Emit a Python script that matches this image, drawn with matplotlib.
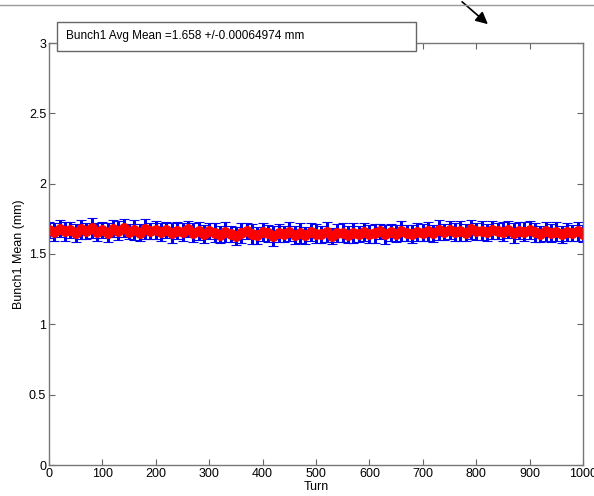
import numpy as np
import matplotlib
matplotlib.use('Agg')
import matplotlib.pyplot as plt

plt.rcParams['font.family'] = ['Liberation Sans', 'DejaVu Sans']

# turn numbers, sampled every 10 turns
turns = np.arange(0, 1001, 10)

# bunch mean (mm)
bunch_mean = [
    1.672, 1.655, 1.681, 1.660, 1.668, 1.649, 1.676, 1.663, 1.685, 1.657,
    1.670, 1.652, 1.679, 1.666, 1.688, 1.659, 1.671, 1.650, 1.677, 1.664, 1.669,
    1.655, 1.673, 1.648, 1.667, 1.658, 1.676, 1.651, 1.662, 1.644, 1.665,
    1.652, 1.638, 1.657, 1.643, 1.630, 1.649, 1.661, 1.640, 1.634, 1.655,
    1.646, 1.628, 1.650, 1.642, 1.659, 1.637, 1.648, 1.633, 1.654, 1.644,
    1.639, 1.657, 1.631, 1.647, 1.652, 1.636, 1.649, 1.641, 1.656, 1.643,
    1.647, 1.660, 1.639, 1.653, 1.645, 1.662, 1.650, 1.641, 1.657, 1.652,
    1.661, 1.648, 1.669, 1.655, 1.672, 1.658, 1.664, 1.651, 1.676, 1.660,
    1.667, 1.653, 1.670, 1.662, 1.657, 1.674, 1.649, 1.666, 1.659, 1.671,
    1.655, 1.643, 1.661, 1.650, 1.658, 1.640, 1.653, 1.647, 1.660, 1.645,
]

# error bar half-widths (mm)
bunch_err = [
    0.058, 0.065, 0.061, 0.070, 0.056, 0.063, 0.067, 0.059, 0.072, 0.062,
    0.057, 0.066, 0.060, 0.069, 0.064, 0.055, 0.068, 0.061, 0.073, 0.059,
    0.063, 0.066, 0.058, 0.071, 0.060, 0.064, 0.057, 0.069, 0.062, 0.065,
    0.056, 0.067, 0.061, 0.070, 0.059, 0.063, 0.068, 0.057, 0.072, 0.060,
    0.065, 0.058, 0.069, 0.062, 0.056, 0.067, 0.064, 0.071, 0.059, 0.063,
    0.066, 0.060, 0.073, 0.057, 0.064, 0.068, 0.061, 0.070, 0.058, 0.065,
    0.062, 0.067, 0.056, 0.069, 0.063, 0.060, 0.071, 0.058, 0.066, 0.064,
    0.059, 0.068, 0.061, 0.072, 0.057, 0.065, 0.063, 0.070, 0.060, 0.066,
    0.058, 0.069, 0.062, 0.064, 0.056, 0.067, 0.061, 0.071, 0.059, 0.065,
    0.063, 0.068, 0.057, 0.070, 0.062, 0.066, 0.060, 0.064, 0.058, 0.067,
    0.061,
]

x_ticks = list(range(0, 1001, 100))
y_ticks = [0, 0.5, 1, 1.5, 2, 2.5, 3]
legend_text = 'Bunch1 Avg Mean =1.658 +/-0.00064974 mm'

fig = plt.figure(figsize=(5.94, 4.96), dpi=100)
ax = fig.add_axes([49 / 594, 1 - 465 / 496, (583 - 49) / 594, (465 - 43) / 496])

eb = ax.errorbar(turns, bunch_mean, yerr=bunch_err, fmt='none', ecolor='#0000ee',
                 elinewidth=2.2, capsize=3.5, capthick=0.8)
for cap in eb[1]:
    cap.set_color('#8080ff')
ax.plot(turns, bunch_mean, '-o', color='#ff0000', markersize=7, linewidth=2,
        markeredgewidth=0.8)

ax.set_xlim(0, 1000)
ax.set_ylim(0, 3)
ax.set_xticks(x_ticks)
ax.set_yticks(y_ticks)
ax.set_yticklabels(['0', '0.5', '1', '1.5', '2', '2.5', '3'])
ax.tick_params(direction='in', length=4, width=0.8, color='#666666',
               top=True, right=True, labelsize=9, pad=2)
for sp in ax.spines.values():
    sp.set_color('#777777')
    sp.set_linewidth(1.0)
ax.set_xlabel('Turn', fontsize=9, labelpad=1)
ax.set_ylabel('Bunch1 Mean (mm)', fontsize=9, labelpad=3)

# legend box sitting over the top edge of the axes
fig.patches.append(plt.Rectangle((57 / 594, 1 - 51 / 496), (416 - 57) / 594, 29 / 496,
                                 transform=fig.transFigure, facecolor='white',
                                 edgecolor='#666666', linewidth=1.0, zorder=5))
fig.text(66 / 594, 1 - 36 / 496, legend_text, fontsize=8.5, va='center', zorder=6)

# page line and arrow at the top
fig.add_artist(plt.Line2D([0, 1], [1 - 5 / 496, 1 - 5 / 496], transform=fig.transFigure,
                          color='#999999', linewidth=1.0))
ax.annotate('', xy=(490 / 594, 1 - 26 / 496), xytext=(460 / 594, 1.0),
            xycoords='figure fraction', textcoords='figure fraction',
            arrowprops=dict(arrowstyle='-|>', color='black', lw=1.2, mutation_scale=18))

fig.savefig('out.png', dpi=100)
